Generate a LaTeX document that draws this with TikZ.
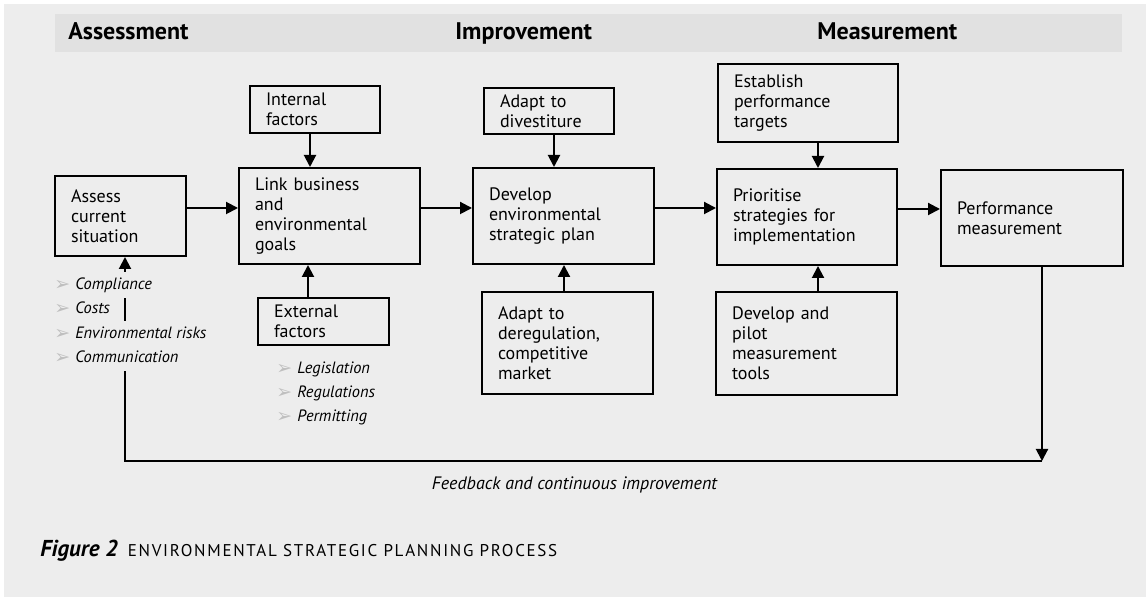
\documentclass[tikz,border=0pt]{standalone}
\usepackage{fontspec}
\setmainfont{PT Sans}
\newfontfamily\dingfont{DejaVu Sans}
\usetikzlibrary{arrows.meta,positioning}
\definecolor{paper}{RGB}{237,237,237}
\definecolor{band}{RGB}{225,225,225}
\tikzset{>={Triangle[length=6pt,width=6pt]}}
\tikzset{%
    stage/.style 2 args={draw, line width=1pt, align=left, inner xsep=8pt,
        text width=#1, minimum height=#2, font=\fontsize{9}{10}\selectfont},%
    phase/.style={anchor=base west, inner sep=0pt, font=\fontsize{12}{13}\selectfont\bfseries},%
    factor/.style={anchor=west, fill=paper, inner xsep=1pt, inner ysep=2pt,
        text height=7pt, text depth=2pt, font=\fontsize{8.2}{9}\selectfont\itshape},%
    flow/.style={->, line width=1pt}%
}
\newcommand{\pointer}{\raisebox{-0.5pt}{\dingfont\fontsize{9.5}{9.5}\selectfont\color{gray!50}➢}\hspace{2.5pt}}

\begin{document}
\begin{tikzpicture}[x=0.5pt,y=-0.5pt]
    \useasboundingbox (0,0) rectangle (1146,597);
    \fill[white] (0,0) rectangle (1146,597);
    \fill[paper] (4,4) rectangle (1146,597);
    \fill[band] (55,14) rectangle (1122,52);

    % phase headings
    \node[phase] (hAssess) at (68,40) {Assessment};
    \node[phase] (hImprove) at (455,40) {Improvement};
    \node[phase] (hMeasure) at (817,40) {Measurement};

    % main row
    \node[stage={49.5pt}{40pt}] (assess) at (120.5,216) {Assess\\current\\situation};
    \node[stage={74.5pt}{48pt}] (link) at (329.5,216) {Link business\\and\\environmental\\goals};
    \node[stage={74.5pt}{48pt}] (plan) at (563.5,216) {Develop\\environmental\\strategic plan};
    \node[stage={74pt}{48pt}] (prior) at (807,217) {Prioritise\\strategies for\\implementation};
    \node[stage={75pt}{48pt}] (perf) at (1032,218) {Performance\\measurement\\[14pt]};

    % inputs from above and below
    \node[stage={49pt}{23.5pt}] (internal) at (315,109.5) {Internal\\factors};
    \node[stage={49.5pt}{23.5pt}] (external) at (323.5,321.5) {External\\factors};
    \node[stage={49pt}{23pt}] (divest) at (549,111) {Adapt to\\divestiture};
    \node[stage={69.5pt}{51pt}] (dereg) at (567.5,343) {Adapt to\\deregulation,\\competitive\\market};
    \node[stage={74pt}{39pt}] (targets) at (808,103) {Establish\\performance\\targets};
    \node[stage={74.5pt}{51.5pt}] (pilot) at (806.5,343.5) {Develop and\\pilot\\measurement\\tools};

    \coordinate (a1) at ([yshift=4pt]assess.east);
    \coordinate (a2) at ([yshift=4pt]link.east);
    \coordinate (a3) at ([yshift=4pt]plan.east);
    \coordinate (a4) at ([yshift=4pt]prior.east);
    \draw[flow] (a1) -- (a1 -| link.west);
    \draw[flow] (a2) -- (a2 -| plan.west);
    \draw[flow] (a3) -- (a3 -| prior.west);
    \draw[flow] (a4) -- (a4 -| perf.west);

    \coordinate (i1) at ([xshift=-2.5pt]internal.south);
    \coordinate (e1) at ([xshift=-7.75pt]external.north);
    \coordinate (d1) at ([xshift=2.5pt]divest.south);
    \coordinate (d2) at ([xshift=-1.75pt]dereg.north);
    \coordinate (t1) at ([xshift=5pt]targets.south);
    \coordinate (p1) at ([xshift=5.75pt]pilot.north);
    \draw[flow] (i1) -- (i1 |- link.north);
    \draw[flow] (e1) -- (e1 |- link.south);
    \draw[flow] (d1) -- (d1 |- plan.north);
    \draw[flow] (d2) -- (d2 |- plan.south);
    \draw[flow] (t1) -- (t1 |- prior.north);
    \draw[flow] (p1) -- (p1 |- prior.south);

    % feedback loop
    \coordinate (fbR) at (1042,461);
    \coordinate (fbL) at (125,461);
    \draw[flow] ([xshift=5pt]perf.south) -- (fbR);
    \draw[flow] (fbR) -- (fbL) -- (fbL |- assess.south);
    \node[anchor=base, font=\fontsize{9}{10}\selectfont\itshape] (fbText) at (574.5,490)
        {Feedback and continuous improvement};

    % factor lists, drawn over the loop line
    \node[factor] (f1) at (52,285) {\pointer Compliance};
    \node[factor] (f2) at (52,309) {\pointer Costs};
    \node[factor] (f3) at (52,334) {\pointer Environmental risks};
    \node[factor] (f4) at (52,358) {\pointer Communication};
    \node[factor] (g1) at (274,369) {\pointer Legislation};
    \node[factor] (g2) at (274,393) {\pointer Regulations};
    \node[factor] (g3) at (274,417) {\pointer Permitting};

    \node[anchor=base west, inner sep=0pt] (caption) at (40,557)
        {\fontsize{11.5}{12}\selectfont\bfseries\itshape Figure 2\hspace{5pt}%
         \fontsize{8.5}{9}\selectfont\mdseries\upshape\addfontfeature{LetterSpace=10}%
         ENVIRONMENTAL STRATEGIC PLANNING PROCESS};
\end{tikzpicture}
\end{document}
